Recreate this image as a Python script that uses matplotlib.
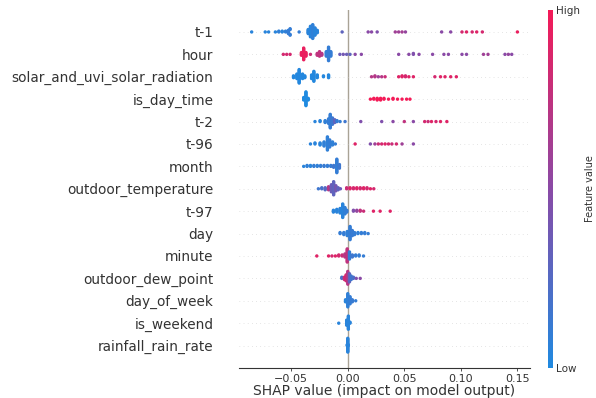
import numpy as np
import matplotlib
matplotlib.use("Agg")
import matplotlib.pyplot as plt
from matplotlib.colors import LinearSegmentedColormap

# features, top row first
features = [
    "t-1", "hour", "solar_and_uvi_solar_radiation", "is_day_time", "t-2",
    "t-96", "month", "outdoor_temperature", "t-97", "day", "minute",
    "outdoor_dew_point", "day_of_week", "is_weekend", "rainfall_rain_rate",
]

# SHAP value of each group of points
shap_values = {
    "t-1": [-0.085, -0.073, -0.070, -0.064, -0.061, -0.058, -0.055, -0.0525, -0.051, -0.043,
            -0.035, -0.033, -0.031, -0.029, -0.027, -0.005, 0.018, 0.021, 0.026, 0.042,
            0.045, 0.048, 0.051, 0.083, 0.091, 0.101, 0.105, 0.110, 0.114, 0.119, 0.150],
    "hour": [-0.057, -0.054, -0.051, -0.041, -0.039, -0.037, -0.033, -0.027, -0.025, -0.023,
             -0.019, -0.017, -0.015, -0.007, -0.004, -0.001, 0.002, 0.0065, 0.012, 0.045,
             0.054, 0.058, 0.063, 0.075, 0.085, 0.089, 0.101, 0.105, 0.120, 0.124,
             0.139, 0.142, 0.145],
    "solar_and_uvi_solar_radiation": [-0.048, -0.045, -0.043, -0.040, -0.038, -0.032, -0.030,
                                      -0.027, -0.0215, -0.017, 0.021, 0.024, 0.027, 0.030,
                                      0.033, 0.045, 0.048, 0.051, 0.054, 0.058, 0.077, 0.082,
                                      0.086, 0.091, 0.096],
    "is_day_time": [-0.039, -0.037, -0.035, 0.020, 0.023, 0.026, 0.029, 0.032, 0.036, 0.040,
                    0.044, 0.048, 0.052, 0.055],
    "t-2": [-0.029, -0.0245, -0.020, -0.017, -0.0155, -0.0135, -0.0115, -0.0095, -0.0068,
            -0.0024, 0.0115, 0.030, 0.040, 0.050, 0.058, 0.068, 0.071, 0.074, 0.078, 0.082,
            0.0876],
    "t-96": [-0.033, -0.029, -0.0245, -0.021, -0.018, -0.016, -0.0135, -0.011, 0.0065, 0.020,
             0.024, 0.027, 0.030, 0.033, 0.036, 0.039, 0.043, 0.048, 0.058],
    "month": [-0.039, -0.036, -0.033, -0.030, -0.027, -0.024, -0.021, -0.018, -0.015, -0.0125,
              -0.0097, -0.0074],
    "outdoor_temperature": [-0.026, -0.023, -0.020, -0.017, -0.0145, -0.0125, -0.0105, -0.0085,
                            -0.0065, -0.001, 0.002, 0.005, 0.008, 0.011, 0.014, 0.017, 0.020,
                            0.023],
    "t-97": [-0.0127, -0.0097, -0.0068, -0.0045, -0.0025, -0.0009, 0.005, 0.008, 0.011, 0.014,
             0.0227, 0.0286, 0.0375],
    "day": [-0.0068, -0.0035, -0.0005, 0.002, 0.004, 0.006, 0.009, 0.012, 0.015, 0.018],
    "minute": [-0.0274, -0.017, -0.014, -0.011, -0.008, -0.005, -0.0025, -0.0005, 0.0015,
               0.004, 0.007, 0.010, 0.0139],
    "outdoor_dew_point": [-0.0053, -0.003, -0.0015, 0.0, 0.0015, 0.003, 0.005, 0.0075, 0.011],
    "day_of_week": [-0.002, 0.0, 0.002, 0.004, 0.007],
    "is_weekend": [-0.008, -0.001, 0.0005, 0.002],
    "rainfall_rain_rate": [-0.0005, 0.0, 0.0005],
}

# how many points sit at each of those values
point_counts = {
    "t-1": [1, 1, 1, 1, 2, 2, 2, 5, 4, 1, 6, 14, 18, 10, 4, 1, 1, 1, 1, 1, 1, 1, 1, 1, 1,
            1, 1, 1, 1, 1, 1],
    "hour": [1, 1, 1, 4, 14, 5, 1, 3, 6, 3, 6, 16, 6, 1, 1, 1, 1, 1, 1, 1, 1, 2, 1, 1, 1,
             1, 1, 1, 1, 1, 1, 1, 1],
    "solar_and_uvi_solar_radiation": [3, 6, 16, 6, 3, 5, 12, 4, 2, 4, 1, 2, 1, 1, 1, 1, 2, 2,
                                      1, 1, 1, 1, 1, 1, 1],
    "is_day_time": [4, 18, 3, 1, 2, 3, 3, 2, 1, 2, 1, 1, 1, 1],
    "t-2": [1, 2, 3, 6, 16, 8, 4, 2, 1, 1, 1, 1, 1, 1, 1, 1, 1, 1, 1, 1, 1],
    "t-96": [1, 2, 3, 5, 14, 8, 4, 1, 1, 1, 1, 1, 1, 1, 1, 1, 1, 1, 1],
    "month": [1, 2, 2, 2, 2, 2, 2, 2, 2, 3, 16, 5],
    "outdoor_temperature": [1, 2, 3, 4, 8, 14, 6, 3, 1, 2, 2, 2, 2, 2, 2, 2, 1, 1],
    "t-97": [3, 4, 6, 16, 8, 3, 2, 2, 2, 1, 1, 1, 1],
    "day": [2, 3, 5, 14, 6, 3, 2, 2, 2, 1],
    "minute": [1, 1, 1, 1, 2, 2, 4, 14, 8, 3, 2, 2, 1],
    "outdoor_dew_point": [2, 3, 6, 12, 8, 4, 2, 1, 1],
    "day_of_week": [3, 14, 8, 3, 1],
    "is_weekend": [1, 6, 14, 2],
    "rainfall_rain_rate": [2, 18, 2],
}

# normalised feature value (0 = low / blue, 1 = high / red) of each group
feature_levels = {
    "t-1": [0.05, 0.05, 0.05, 0.05, 0.08, 0.05, 0.08, 0.1, 0.1, 0.1, 0.05, 0.05, 0.08, 0.05,
            0.05, 0.3, 0.5, 0.5, 0.45, 0.6, 0.6, 0.62, 0.55, 0.5, 0.5, 0.85, 0.9, 0.85, 0.9,
            0.85, 0.95],
    "hour": [0.85, 0.85, 0.85, 0.95, 0.95, 0.95, 0.8, 0.75, 0.75, 0.7, 0.1, 0.1, 0.1, 0.35,
             0.4, 0.35, 0.3, 0.5, 0.5, 0.5, 0.5, 0.45, 0.5, 0.5, 0.5, 0.5, 0.5, 0.5, 0.6, 0.6,
             0.5, 0.55, 0.5],
    "solar_and_uvi_solar_radiation": [0.02, 0.02, 0.02, 0.02, 0.02, 0.02, 0.02, 0.02, 0.02,
                                      0.02, 0.7, 0.7, 0.6, 0.7, 0.8, 0.9, 0.9, 0.85, 0.9, 0.9,
                                      0.85, 0.9, 0.9, 0.9, 0.9],
    "is_day_time": [0.0, 0.0, 0.0, 1.0, 1.0, 1.0, 1.0, 1.0, 1.0, 1.0, 1.0, 1.0, 1.0, 1.0],
    "t-2": [0.05, 0.05, 0.08, 0.1, 0.1, 0.15, 0.3, 0.1, 0.1, 0.15, 0.45, 0.45, 0.5, 0.75, 0.5,
            0.85, 0.8, 0.9, 0.85, 0.9, 0.9],
    "t-96": [0.05, 0.05, 0.05, 0.08, 0.08, 0.1, 0.08, 0.1, 0.9, 0.45, 0.6, 0.8, 0.85, 0.9,
             0.85, 0.8, 0.85, 0.6, 0.5],
    "month": [0.05, 0.08, 0.05, 0.1, 0.08, 0.1, 0.12, 0.1, 0.12, 0.15, 0.1, 0.15],
    "outdoor_temperature": [0.15, 0.2, 0.25, 0.7, 0.35, 0.3, 0.4, 0.3, 0.35, 0.8, 0.9, 0.85,
                            0.9, 0.85, 0.9, 0.85, 0.9, 0.85],
    "t-97": [0.05, 0.05, 0.05, 0.05, 0.08, 0.1, 0.45, 0.55, 0.75, 0.8, 0.9, 0.9, 0.9],
    "day": [0.1, 0.1, 0.08, 0.1, 0.12, 0.1, 0.08, 0.1, 0.1, 0.1],
    "minute": [0.9, 0.9, 0.85, 0.9, 0.85, 0.8, 0.7, 0.75, 0.1, 0.15, 0.1, 0.1, 0.1],
    "outdoor_dew_point": [0.2, 0.8, 0.85, 0.7, 0.3, 0.15, 0.2, 0.45, 0.5],
    "day_of_week": [0.05, 0.08, 0.1, 0.12, 0.1],
    "is_weekend": [0.05, 0.05, 0.05, 0.05],
    "rainfall_rain_rate": [0.05, 0.05, 0.05],
}

red_blue = LinearSegmentedColormap.from_list("red_blue", ["#1f8ae0", "#8a4aa6", "#f41a57"])
axis_color = "#333333"


def swarm_offsets(values, row_height=0.4, nbins=100):
    # same stacking idea as shap's beeswarm: bin the x values, pile points up/down
    vals = np.asarray(values, dtype=float)
    quant = np.round(nbins * (vals - vals.min()) / (vals.max() - vals.min() + 1e-8))
    ys = np.zeros(len(vals))
    layer, last = 0, None
    for i in np.argsort(quant, kind="stable"):
        if quant[i] != last:
            layer = 0
        ys[i] = np.ceil(layer / 2) * ((layer % 2) * 2 - 1)
        layer += 1
        last = quant[i]
    return ys * 0.9 * (row_height / np.max(ys + 1))


fig = plt.figure(figsize=(5.96, 3.98), dpi=100)
ax = fig.add_axes([0.401, 0.0754, 0.488, 0.9006])
cax = fig.add_axes([0.919, 0.0754, 0.0085, 0.8995])

n = len(features)
ax.axvline(0, color="#a9a396", lw=1.0, zorder=-1)
for i, name in enumerate(features):
    pos = n - 1 - i
    ax.axhline(pos, color="#cccccc", lw=0.5, dashes=(1, 5), zorder=-1)
    x = np.repeat(shap_values[name], point_counts[name])
    c = np.repeat(feature_levels[name], point_counts[name])
    ax.scatter(x, pos + swarm_offsets(x), c=c, cmap=red_blue, vmin=0, vmax=1,
               s=6, linewidths=0, zorder=3)

ax.set_yticks(range(n))
ax.set_yticklabels(features[::-1], fontsize=9.8)
ax.set_ylim(-1, n)
ax.set_xlim(-0.0962, 0.161)
ax.set_xticks([-0.05, 0.0, 0.05, 0.10, 0.15])
ax.set_xticklabels(["\u22120.05", "0.00", "0.05", "0.10", "0.15"])
ax.tick_params(axis="y", length=0, pad=18.5, colors=axis_color)
ax.tick_params(axis="x", length=2.5, width=0.6, pad=1.5, labelsize=8, colors=axis_color)
for side in ["left", "right", "top"]:
    ax.spines[side].set_visible(False)
ax.spines["bottom"].set_color(axis_color)
ax.spines["bottom"].set_linewidth(0.8)
ax.set_xlabel("SHAP value (impact on model output)", fontsize=10, color=axis_color, labelpad=0)

sm = plt.cm.ScalarMappable(cmap=red_blue, norm=plt.Normalize(0, 1))
cb = fig.colorbar(sm, cax=cax, ticks=[0, 1])
cb.set_ticklabels(["Low", "High"])
cb.ax.tick_params(labelsize=7.5, length=0, pad=2, colors=axis_color)
cb.outline.set_visible(False)
cb.set_label("Feature value", fontsize=7, labelpad=4, color=axis_color)

fig.savefig("out.png", dpi=100)
plt.close(fig)
